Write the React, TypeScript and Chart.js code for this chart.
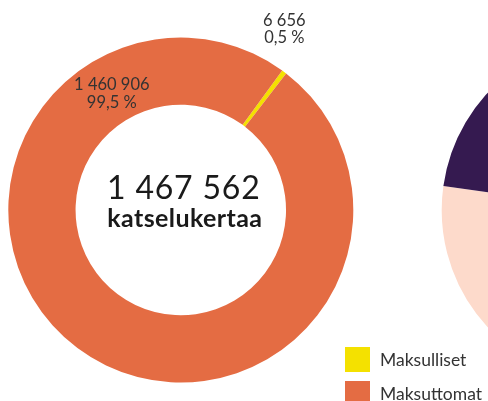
import React, { useEffect, useRef } from "react";
import { Chart, registerables } from "chart.js";

Chart.register(...registerables);

const categories = ["Maksulliset", "Maksuttomat"];
const viewCounts = [6656, 1460906];
const sliceColors = ["#F4E100", "#E46C43"];
const centerCaption = "katselukertaa";

const sidePieLabels = ["Sarja A", "Sarja B"];
const sidePieValues = [75, 25];
const sidePieColors = ["#FDDACB", "#351A50"];

const fmtNum = (n: number) => String(n).replace(/\B(?=(\d{3})+(?!\d))/g, " ");
const fmtPct = (v: number, total: number) => (v / total * 100).toFixed(1).replace(".", ",") + " %";

const labelPlugin = {
  id: "donutLabels",
  afterDraw(chart: any) {
    const ctx = chart.ctx;
    const arc = chart.getDatasetMeta(0).data[0];
    if (!arc) return;
    const cx = arc.x;
    const cy = arc.y;
    const data = chart.data.datasets[0].data as number[];
    const total = data.reduce((a, b) => a + b, 0);
    ctx.save();
    ctx.textAlign = "center";
    ctx.textBaseline = "alphabetic";
    // center
    ctx.fillStyle = "#1a1a1a";
    ctx.font = "32px Lato";
    (ctx as any).letterSpacing = "0.8px";
    ctx.fillText(fmtNum(total), cx + 3, cy - 11);
    ctx.font = "bold 25px Lato";
    (ctx as any).letterSpacing = "0.4px";
    ctx.fillText(centerCaption, cx + 4, cy + 17);
    // slice labels
    ctx.fillStyle = "#333333";
    ctx.font = "16.5px Lato";
    (ctx as any).letterSpacing = "0px";
    ctx.fillText(fmtNum(data[0]), cx + 103.5, cy - 184);
    ctx.fillText(fmtPct(data[0], total), cx + 103.5, cy - 167);
    ctx.fillText(fmtNum(data[1]), cx - 69, cy - 120);
    ctx.fillText(fmtPct(data[1], total), cx - 69, cy - 102);
    // legend
    const labels = chart.data.labels as string[];
    const colors = chart.data.datasets[0].backgroundColor as string[];
    ctx.textAlign = "left";
    ctx.font = "17.5px Lato";
    labels.forEach((l, i) => {
      const y = 347 + i * 34;
      ctx.fillStyle = colors[i];
      ctx.fillRect(345, y, 25, 25);
      ctx.fillStyle = "#333333";
      ctx.fillText(l, 380, y + 19);
    });
    ctx.restore();
  },
};

export default function App() {
  const mainRef = useRef<HTMLCanvasElement>(null);
  const sideRef = useRef<HTMLCanvasElement>(null);

  useEffect(() => {
    const side = new Chart(sideRef.current!, {
      type: "pie",
      data: {
        labels: sidePieLabels,
        datasets: [{ data: sidePieValues, backgroundColor: sidePieColors, borderWidth: 0, hoverOffset: 0 }],
      },
      options: {
        responsive: false,
        animation: false,
        events: [],
        rotation: 8,
        layout: { padding: { left: 41.7, top: 37.5, right: 13.3, bottom: 18.5 } },
        plugins: { legend: { display: false }, tooltip: { enabled: false } },
      },
    });
    const main = new Chart(mainRef.current!, {
      type: "doughnut",
      data: {
        labels: categories,
        datasets: [{ data: viewCounts, backgroundColor: sliceColors, borderWidth: 0, hoverOffset: 0 }],
      },
      options: {
        responsive: false,
        animation: false,
        events: [],
        rotation: 36,
        cutout: "61%",
        layout: { padding: { left: 8.3, top: 37.5, right: 488 - 8.3 - 345, bottom: 401 - 37.5 - 345 } },
        plugins: { legend: { display: false }, tooltip: { enabled: false } },
      },
      plugins: [labelPlugin],
    });
    return () => {
      main.destroy();
      side.destroy();
    };
  }, []);

  return (
    <div style={{ position: "fixed", left: 0, top: 0, width: 488, height: 401, overflow: "hidden", background: "#fff" }}>
      <canvas ref={sideRef} width={400} height={401} style={{ position: "absolute", left: 400, top: 0, width: 400, height: 401 }} />
      <canvas ref={mainRef} width={488} height={401} style={{ position: "absolute", left: 0, top: 0, width: 488, height: 401 }} />
    </div>
  );
}
